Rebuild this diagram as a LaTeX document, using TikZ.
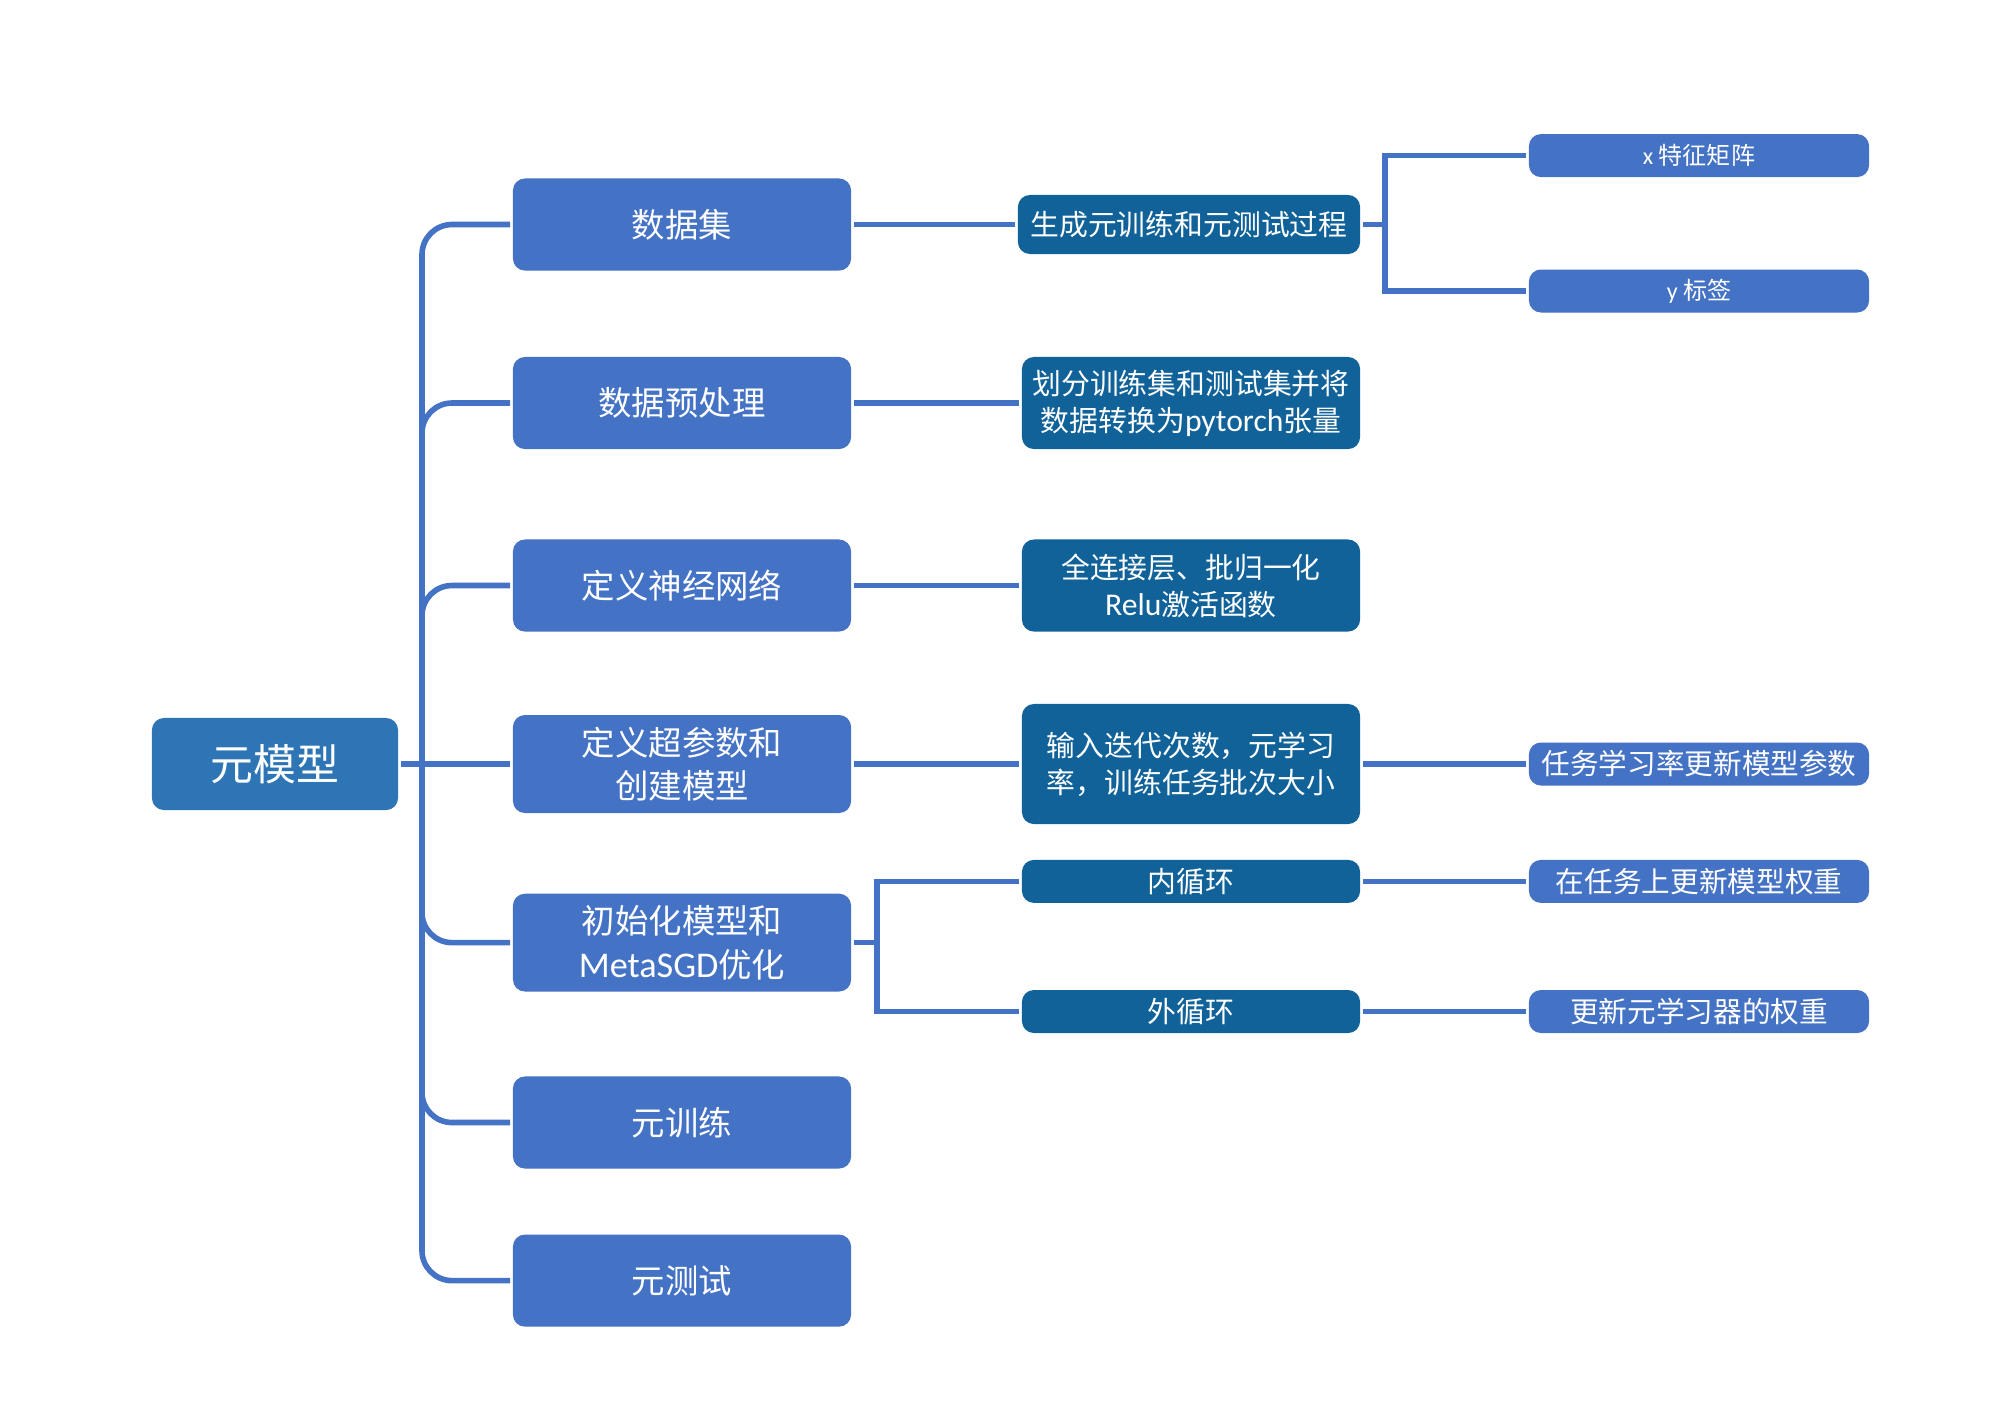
\documentclass[tikz,border=0pt]{standalone}
\usepackage{fontspec}
\setmainfont{Noto Sans CJK SC}
\newfontfamily\lat{Carlito}
\usetikzlibrary{calc}
\definecolor{azul}{RGB}{68,114,196}
\definecolor{raiz}{RGB}{46,117,182}
\definecolor{oscuro}{RGB}{16,98,153}

\begin{document}
\begin{tikzpicture}[x=0.01cm,y=-0.01cm,line width=1.6pt,
raiz/.style ={rectangle, fill=raiz, text=white, align=center, rounded corners=0.12cm, minimum width=2.46cm, minimum height=0.92cm, font=\fontsize{12.2}{15}\selectfont},
grup/.style ={rectangle, fill=azul, text=white, align=center, rounded corners=0.12cm, minimum width=3.38cm, minimum height=0.92cm, font=\fontsize{9.5}{12.4}\selectfont},
paso/.style ={rectangle, fill=oscuro, text=white, align=center, rounded corners=0.12cm, minimum width=3.38cm, inner sep=1pt, font=\fontsize{8.2}{10.5}\selectfont},
hoja/.style ={rectangle, fill=azul, text=white, align=center, rounded corners=0.12cm, minimum width=3.4cm, minimum height=0.43cm, inner sep=1pt, font=\fontsize{8.15}{10.5}\selectfont},
linea/.style ={draw=azul, line width=1.6pt}
]
\useasboundingbox (0,0) rectangle (2000,1414);

% raiz y primer nivel
\draw (275,764) node[raiz] (M) {元模型};
\draw (682,224.5) node[grup] (A) {数据集};
\draw (682,403) node[grup] (B) {数据预处理};
\draw (682,585.5) node[grup] (C) {定义神经网络};
\draw (682,764) node[grup] (D) {定义超参数和\\创建模型};
\draw (682,942.6) node[grup] (E) {初始化模型和\\{\lat\fontsize{10.3}{12.4}\selectfont MetaSGD}优化};
\draw (682,1122.5) node[grup] (F) {元训练};
\draw (682,1280.6) node[grup] (G) {元测试};

% segundo nivel
\draw (1189,224.5) node[paso, minimum height=0.59cm, minimum width=3.42cm] (A1) {生成元训练和元测试过程};
\draw (1191,403) node[paso, minimum height=0.92cm] (B1) {划分训练集和测试集并将\\数据转换为{\lat\fontsize{9}{10.5}\selectfont pytorch}张量};
\draw (1191,585.5) node[paso, minimum height=0.92cm] (C1) {全连接层、批归一化\\{\lat\fontsize{9}{10.5}\selectfont Relu}激活函数};
\draw (1191,764) node[paso, minimum height=1.2cm] (D1) {输入迭代次数，元学习\\率，训练任务批次大小};
\draw (1191,881.4) node[paso, minimum height=0.43cm] (E1) {内循环};
\draw (1191,1011.5) node[paso, minimum height=0.43cm] (E2) {外循环};

% tercer nivel
\draw (1699,155.6) node[hoja, font=\fontsize{6.85}{9}\selectfont] (A11) {{\lat x} 特征矩阵};
\draw (1699,291) node[hoja, font=\fontsize{6.85}{9}\selectfont] (A12) {{\lat y} 标签};
\draw (1699,764) node[hoja] (D11) {任务学习率更新模型参数};
\draw (1699,881.4) node[hoja] (E11) {在任务上更新模型权重};
\draw (1699,1011.5) node[hoja] (E21) {更新元学习器的权重};

% conectores
\coordinate (T) at (422,764);
\coordinate (J1) at (1385,224.5);
\coordinate (J2) at (877,942.6);
\draw[linea] (M.east)--(D.west);
\draw[linea, rounded corners=0.3cm] (T) |- (A.west);
\draw[linea, rounded corners=0.3cm] (T) |- (B.west);
\draw[linea, rounded corners=0.3cm] (T) |- (C.west);
\draw[linea, rounded corners=0.3cm] (T) |- (E.west);
\draw[linea, rounded corners=0.3cm] (T) |- (F.west);
\draw[linea, rounded corners=0.3cm] (T) |- (G.west);
\draw[linea] (A.east)--(A1.west);
\draw[linea] (B.east)--(B1.west);
\draw[linea] (C.east)--(C1.west);
\draw[linea] (D.east)--(D1.west);
\draw[linea] (A1.east)--(J1);
\draw[linea] (J1) |- (A11.west);
\draw[linea] (J1) |- (A12.west);
\draw[linea] (E.east)--(J2);
\draw[linea] (J2) |- (E1.west);
\draw[linea] (J2) |- (E2.west);
\draw[linea] (D1.east)--(D11.west);
\draw[linea] (E1.east)--(E11.west);
\draw[linea] (E2.east)--(E21.west);

\end{tikzpicture}
\end{document}
